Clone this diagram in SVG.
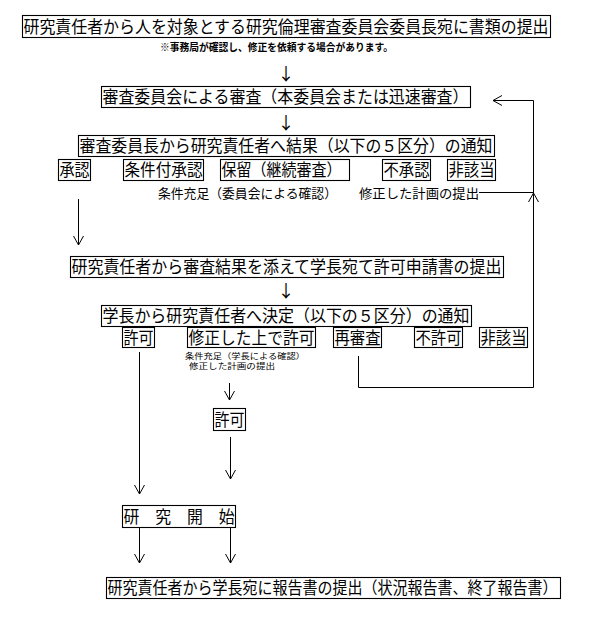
<svg xmlns="http://www.w3.org/2000/svg" width="593" height="626" viewBox="0 0 593 626">
<defs>
<style>
.b{fill:#fff;stroke:#000;stroke-width:1.1}
.t{font-family:"Noto Sans CJK JP","Noto Sans CJK SC",sans-serif;font-size:16.5px;fill:#000}
.s{font-family:"Noto Sans CJK JP","Noto Sans CJK SC",sans-serif;font-size:13px;fill:#000}
.xs{font-family:"Noto Sans CJK JP","Noto Sans CJK SC",sans-serif;font-size:8px;fill:#000}
.n{font-family:"Noto Sans CJK JP","Noto Sans CJK SC",sans-serif;font-size:10.5px;font-weight:bold;fill:#000}
.a{font-family:"Noto Sans CJK JP","Noto Sans CJK SC",sans-serif;font-size:17px;fill:#000}
.c{fill:none;stroke:#000;stroke-width:1}
</style>
<marker id="ah" markerUnits="userSpaceOnUse" markerWidth="12" markerHeight="12" refX="9" refY="5" orient="auto">
<path d="M0,0 L9,5 L0,10" fill="none" stroke="#000" stroke-width="1"/>
</marker>
</defs>
<rect width="593" height="626" fill="#fff"/>

<g id="n1"><rect class="b" x="22.5" y="15.5" width="528" height="22"/><text class="t" x="23.5" y="32.5" textLength="525" lengthAdjust="spacingAndGlyphs">研究責任者から人を対象とする研究倫理審査委員会委員長宛に書類の提出</text></g>
<g id="note"><text class="n" x="160" y="51" textLength="233" lengthAdjust="spacingAndGlyphs">※事務局が確認し、修正を依頼する場合があります。</text></g>

<g id="n2"><rect class="b" x="101.5" y="86.5" width="369" height="21"/><text class="t" x="102.5" y="103" textLength="366" lengthAdjust="spacingAndGlyphs">審査委員会による審査（本委員会または迅速審査）</text></g>

<g id="n3"><rect class="b" x="78.5" y="135.5" width="416" height="21"/><text class="t" x="79.5" y="152" textLength="413" lengthAdjust="spacingAndGlyphs">審査委員長から研究責任者へ結果（以下の５区分）の通知</text></g>

<g id="r1a"><rect class="b" x="58.5" y="159.5" width="32" height="21"/><text class="t" x="59.5" y="176" textLength="30" lengthAdjust="spacingAndGlyphs">承認</text></g>
<g id="r1b"><rect class="b" x="123.5" y="159.5" width="80" height="21"/><text class="t" x="124.5" y="176" textLength="78" lengthAdjust="spacingAndGlyphs">条件付承認</text></g>
<g id="r1c"><rect class="b" x="220.5" y="159.5" width="129" height="21"/><text class="t" x="221.5" y="176" textLength="120" lengthAdjust="spacingAndGlyphs">保留（継続審査）</text></g>
<g id="r1d"><rect class="b" x="382.5" y="159.5" width="48" height="21"/><text class="t" x="383.5" y="176" textLength="46" lengthAdjust="spacingAndGlyphs">不承認</text></g>
<g id="r1e"><rect class="b" x="447.5" y="159.5" width="48" height="21"/><text class="t" x="448.5" y="176" textLength="46" lengthAdjust="spacingAndGlyphs">非該当</text></g>
<g id="cond1"><text class="s" x="158" y="198" textLength="179" lengthAdjust="spacingAndGlyphs">条件充足（委員会による確認）</text><text class="s" x="359" y="198" textLength="120" lengthAdjust="spacingAndGlyphs">修正した計画の提出</text></g>

<g id="n4"><rect class="b" x="70.5" y="256.5" width="433" height="21"/><text class="t" x="71.5" y="273" textLength="430" lengthAdjust="spacingAndGlyphs">研究責任者から審査結果を添えて学長宛て許可申請書の提出</text></g>

<g id="n5"><rect class="b" x="101.5" y="305.5" width="370" height="21"/><text class="t" x="102.5" y="322" textLength="367" lengthAdjust="spacingAndGlyphs">学長から研究責任者へ決定（以下の５区分）の通知</text></g>

<g id="r2a"><rect class="b" x="122.5" y="327.5" width="32" height="20"/><text class="t" x="123.5" y="343.5" textLength="30" lengthAdjust="spacingAndGlyphs">許可</text></g>
<g id="r2b"><rect class="b" x="187.5" y="327.5" width="128" height="20"/><text class="t" x="188.5" y="343.5" textLength="126" lengthAdjust="spacingAndGlyphs">修正した上で許可</text></g>
<g id="r2c"><rect class="b" x="333.5" y="327.5" width="48" height="20"/><text class="t" x="334.5" y="343.5" textLength="46" lengthAdjust="spacingAndGlyphs">再審査</text></g>
<g id="r2d"><rect class="b" x="414.5" y="327.5" width="48" height="20"/><text class="t" x="415.5" y="343.5" textLength="46" lengthAdjust="spacingAndGlyphs">不許可</text></g>
<g id="r2e"><rect class="b" x="479.5" y="327.5" width="48" height="20"/><text class="t" x="480.5" y="343.5" textLength="46" lengthAdjust="spacingAndGlyphs">非該当</text></g>
<g id="cond2"><text class="xs" x="185" y="358.5" textLength="120" lengthAdjust="spacingAndGlyphs">条件充足（学長による確認）</text><text class="xs" x="189" y="368.5" textLength="86" lengthAdjust="spacingAndGlyphs">修正した計画の提出</text></g>

<g id="n6"><rect class="b" x="213.5" y="408.5" width="32" height="22"/><text class="t" x="214.5" y="425.5" textLength="30" lengthAdjust="spacingAndGlyphs">許可</text></g>

<g id="n7"><rect class="b" x="122.5" y="505.5" width="113" height="22"/><text class="t" x="123.5" y="522.5" textLength="111" lengthAdjust="spacingAndGlyphs">研　究　開　始</text></g>

<g id="n8"><rect class="b" x="106.5" y="577.5" width="454" height="21"/><text class="t" x="107.5" y="594" textLength="450" lengthAdjust="spacingAndGlyphs">研究責任者から学長宛に報告書の提出（状況報告書、終了報告書）</text></g>

<g id="connectors">
<text class="a" x="286" y="80" text-anchor="middle">↓</text>
<text class="a" x="286" y="129" text-anchor="middle">↓</text>
<text class="a" x="286" y="297" text-anchor="middle">↓</text>
<path class="c" d="M78.5,199 V245" marker-end="url(#ah)"/>
<path class="c" d="M479,192.5 H533.5"/>
<path class="c" d="M528.5,202 L533.5,193 L538.5,202"/>
<path class="c" d="M358.5,356 V387.5 H533.5 V100.5 H493" marker-end="url(#ah)"/>
<path class="c" d="M139.5,352 V494" marker-end="url(#ah)"/>
<path class="c" d="M229.5,383 V400" marker-end="url(#ah)"/>
<path class="c" d="M230.5,437 V479" marker-end="url(#ah)"/>
<path class="c" d="M139.5,528 V563" marker-end="url(#ah)"/>
<path class="c" d="M230.5,528 V563" marker-end="url(#ah)"/>
</g>
</svg>
